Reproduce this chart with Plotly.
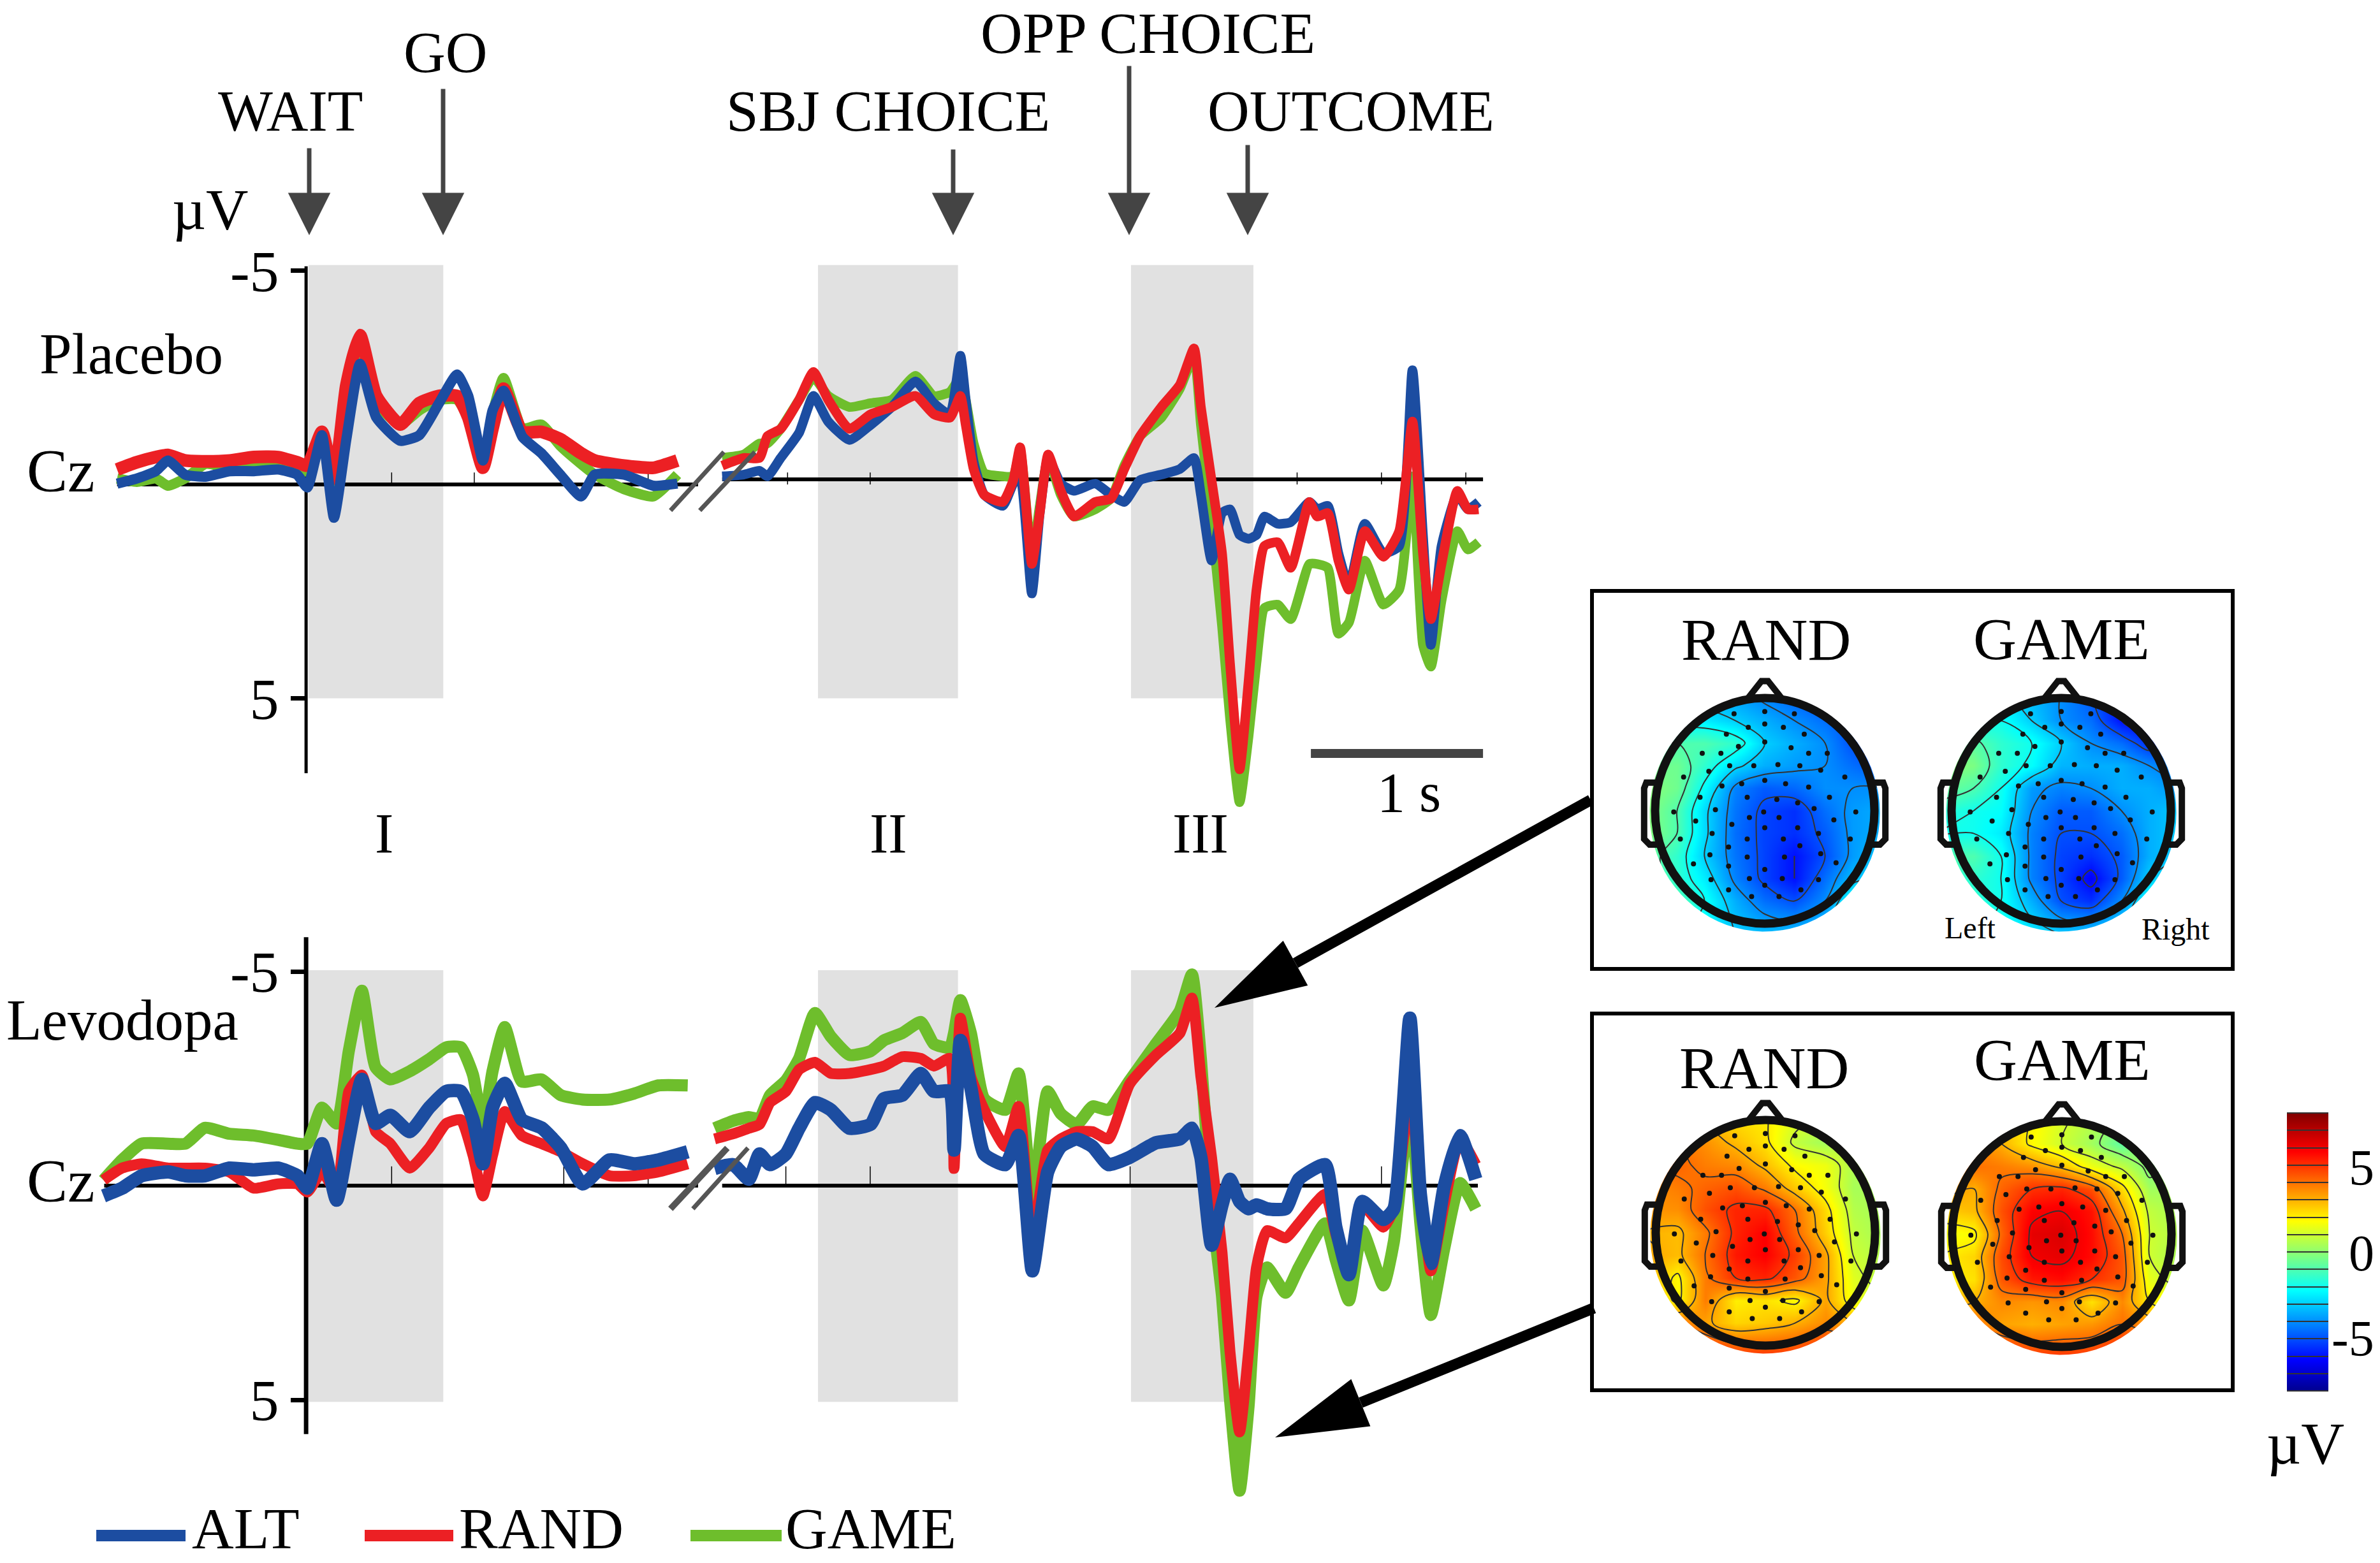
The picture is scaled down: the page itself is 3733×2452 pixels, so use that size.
import numpy as np
import plotly.graph_objects as go

W, H = 3733, 2452

# --- ERP traces: time in s, amplitude in uV (negative up)
top_t1 = [-1.105, -0.99, -0.88, -0.81, -0.71, -0.59, -0.45, -0.31, -0.17, -0.06, 0, 0.085, 0.155, 0.227, 0.306, 0.40,
          0.54, 0.65, 0.765, 0.87, 0.935, 1.02, 1.076, 1.14, 1.25, 1.36, 1.47, 1.59, 1.67, 1.84, 2.01, 2.15]
top_alt1 = [-0.02, -0.14, -0.31, -0.56, -0.23, -0.18, -0.31, -0.31, -0.35, -0.23, 0.07, -1.15, 0.78, -1.06, -2.82, -1.57,
            -1.02, -1.15, -1.90, -2.57, -2.07, -0.56, -1.73, -2.19, -1.11, -0.73, -0.23, 0.28, -0.23, -0.23, 0.03, -0.02]
top_rand1 = [-0.35, -0.52, -0.64, -0.69, -0.56, -0.54, -0.56, -0.64, -0.64, -0.52, -0.44, -1.23, -0.14, -2.32, -3.49, -2.07,
             -1.40, -1.90, -2.07, -2.07, -1.57, -0.39, -1.31, -2.24, -1.23, -1.23, -1.06, -0.73, -0.56, -0.44, -0.39, -0.56]
top_game1 = [-0.14, -0.06, -0.14, 0.03, -0.14, -0.48, -0.39, -0.48, -0.39, -0.31, -0.31, -1.15, 0.19, -1.65, -3.16, -1.90,
             -1.40, -1.73, -1.98, -1.98, -1.57, -0.56, -1.65, -2.49, -1.31, -1.40, -0.90, -0.48, -0.23, 0.11, 0.28, -0.23]

top_t2 = [2.41, 2.535, 2.627, 2.673, 2.75, 2.857, 2.94, 3.026, 3.149, 3.272, 3.395, 3.533, 3.64, 3.733, 3.794, 3.825, 3.871,
          3.932, 4.04, 4.101, 4.141, 4.209, 4.255, 4.304, 4.377, 4.454, 4.577, 4.669, 4.746, 4.838, 4.961, 5.069, 5.151,
          5.191, 5.253, 5.314, 5.36, 5.416, 5.468, 5.514, 5.56, 5.637, 5.713, 5.821, 5.867, 5.928, 5.99, 6.051, 6.143,
          6.251, 6.343, 6.42, 6.481, 6.527, 6.589, 6.681, 6.742, 6.804]
top_alt2 = [-0.19, -0.23, -0.32, -0.19, -0.62, -1.21, -2.07, -1.47, -1.04, -1.39, -1.81, -2.41, -1.90, -1.64, -3.01, -1.98, -0.53,
            0.24, 0.50, -0.02, -0.19, 2.55, 0.67, -0.62, -0.02, 0.15, -0.02, 0.24, 0.41, -0.10, -0.23, -0.36, -0.62,
            0.24, 1.78, 0.67, 0.58, 1.18, 1.27, 1.18, 0.75, 0.92, 0.88, 0.41, 0.58, 0.50, 1.61, 2.38, 0.92,
            1.61, 1.44, -2.67, 1.18, 3.75, 1.44, 0.24, 0.58, 0.41]
top_rand2 = [-0.44, -0.62, -0.62, -1.13, -1.30, -1.98, -2.63, -1.98, -1.30, -1.64, -1.81, -2.07, -1.64, -1.56, -2.07, -1.39, -0.36,
             0.24, 0.41, -0.10, -0.87, 1.86, 0.67, -0.70, 0.15, 0.75, 0.41, 0.33, -0.36, -1.13, -1.81, -2.33, -3.18,
             -1.81, -0.10, 1.61, 4.17, 6.66, 4.60, 2.46, 1.44, 1.35, 1.95, 0.41, 0.75, 0.67, 1.78, 2.46, 1.09,
             1.69, 1.09, -1.47, 1.61, 3.15, 1.86, 0.15, 0.58, 0.58]
top_game2 = [-0.62, -0.70, -0.96, -0.96, -1.30, -1.98, -2.50, -2.07, -1.81, -1.90, -1.98, -2.54, -2.07, -2.16, -2.50, -1.98, -0.96,
             -0.27, -0.19, -0.19, -0.79, 1.69, 0.50, -0.62, 0.24, 0.75, 0.58, 0.33, -0.44, -1.13, -1.56, -2.24, -3.01,
             -1.39, 0.84, 3.32, 5.46, 7.43, 5.89, 4.17, 2.89, 2.81, 3.15, 1.86, 1.86, 1.95, 3.49, 3.23, 1.78,
             2.81, 2.46, -0.19, 3.75, 4.26, 2.72, 1.09, 1.52, 1.35]

bot_t1 = [-1.184, -1.076, -0.963, -0.807, -0.708, -0.595, -0.453, -0.312, -0.17, -0.057, 0, 0.085, 0.17, 0.241, 0.317, 0.397, 0.482,
          0.595, 0.708, 0.807, 0.892, 0.963, 1.02, 1.076, 1.147, 1.246, 1.36, 1.473, 1.6, 1.756, 1.898, 2.04, 2.21]
bot_alt1 = [0.24, 0.06, -0.23, -0.32, -0.23, -0.23, -0.41, -0.37, -0.41, -0.23, 0.06, -0.98, 0.34, -1.07, -2.48, -1.45, -1.64,
            -1.26, -1.82, -2.20, -2.20, -1.54, -0.51, -1.82, -2.39, -1.54, -1.35, -0.88, -0.04, -0.60, -0.51, -0.60, -0.79]
bot_rand1 = [-0.13, -0.41, -0.51, -0.41, -0.41, -0.41, -0.32, 0.06, -0.04, -0.04, 0.15, -0.32, 0.15, -2.20, -2.58, -1.26, -0.98,
             -0.41, -0.88, -1.45, -1.54, -0.70, 0.24, -0.70, -1.73, -1.17, -0.98, -0.79, -0.51, -0.23, -0.23, -0.32, -0.51]
bot_game1 = [-0.13, -0.60, -0.98, -0.98, -0.98, -1.35, -1.21, -1.17, -1.07, -0.98, -0.98, -1.82, -1.45, -3.14, -4.55, -2.76, -2.48,
             -2.67, -2.95, -3.23, -3.23, -2.58, -1.35, -2.67, -3.70, -2.43, -2.48, -2.11, -2.01, -2.01, -2.15, -2.34, -2.34]

bot_t2 = [2.366, 2.473, 2.565, 2.627, 2.688, 2.78, 2.857, 2.949, 3.041, 3.149, 3.272, 3.349, 3.456, 3.564, 3.64, 3.733, 3.757, 3.794,
          3.855, 3.932, 4.055, 4.132, 4.212, 4.301, 4.377, 4.47, 4.562, 4.654, 4.777, 4.93, 5.069, 5.139, 5.191, 5.253, 5.314,
          5.36, 5.416, 5.468, 5.514, 5.575, 5.683, 5.76, 5.913, 5.975, 6.051, 6.128, 6.251, 6.312, 6.405, 6.466, 6.527, 6.604,
          6.696, 6.788]
bot_alt2 = [-0.40, -0.49, -0.15, -0.74, -0.49, -0.74, -1.34, -1.94, -1.77, -1.34, -1.43, -2.03, -2.11, -2.62, -2.20, -2.20, -0.83, -3.39,
            -2.28, -0.74, -0.49, -1.17, 1.99, -0.32, -0.91, -1.09, -0.91, -0.49, -0.66, -1.00, -1.09, -1.34, -0.66, 1.39, 0.45,
            -0.15, 0.37, 0.54, 0.45, 0.54, 0.54, -0.15, -0.49, 0.97, 2.08, 0.37, 0.79, 0.54, -3.91, 0.20, 1.82, 0.03,
            -1.17, -0.15]
bot_rand2 = [-1.09, -1.21, -1.34, -1.43, -1.94, -2.20, -2.71, -2.88, -2.62, -2.62, -2.71, -2.79, -3.01, -2.97, -2.79, -2.97, -0.40, -3.91,
             -2.54, -1.77, -0.91, -1.85, 1.31, -0.83, -1.09, -1.26, -1.26, -1.09, -2.37, -3.05, -3.56, -4.38, -2.54, -0.66, 1.56,
             3.87, 5.75, 3.87, 1.91, 1.05, 1.22, 0.88, 0.20, 1.14, 1.99, 0.45, 0.97, 0.54, -2.11, 0.03, 1.99, 0.45,
             -1.09, -0.49]
bot_game2 = [-1.34, -1.51, -1.60, -1.56, -2.11, -2.45, -2.97, -4.03, -3.48, -3.05, -3.14, -3.39, -3.56, -3.82, -3.31, -3.22, -3.56, -4.33,
             -3.56, -2.03, -1.77, -2.62, 0.37, -2.20, -1.68, -1.43, -1.85, -1.77, -2.45, -3.31, -4.08, -4.93, -2.97, 0.45, 2.59,
             4.98, 7.12, 5.15, 2.59, 1.91, 2.50, 1.91, 0.88, 1.74, 2.68, 1.05, 2.33, 1.31, -1.94, 0.88, 3.02, 1.48,
             -0.06, 0.54]

# baseline pieces and the small time ticks on it
top_base_t = [-1.105, 2.27, None, 2.41, 6.83]
top_base_v = [0, 0, None, -0.12, -0.12]
bot_base_t = [-1.18, 2.27, None, 2.41, 6.80]
bot_base_v = [0, 0, None, 0, 0]
top_ticks_t = [0.49, 0.97, 1.98, 2.79, 3.27, 4.29, 5.75, 6.24, 6.73]
bot_ticks_t = [0.49, 1.49, 1.98, 2.78, 3.27, 4.78, 6.24]

y_tickvals = [-5, 5]
y_ticktext = ['-5', '5']

# shaded windows in s
windows = [(0.007, 0.79), (2.967, 3.78), (4.785, 5.496)]

# --- scalp maps, uV, rows from the nose down, columns left to right
head_x = [-1.1, -0.8, -0.55, -0.27, 0, 0.27, 0.55, 0.8, 1.1]
head_y = [1.1, 0.8, 0.6, 0.4, 0.2, 0, -0.2, -0.4, -0.6, -0.8, -1.1]
map_top_rand = [[-4, -4, -4, -4, -4.5, -5, -5.5, -6, -6],
                [-3, -2.5, -2.5, -3, -3.5, -4, -4.5, -5, -6],
                [-1.5, -1, -1, -1.5, -3, -3.5, -4, -5, -5.5],
                [-0.5, -0.5, -1.5, -2.8, -3.5, -3.8, -4, -4.5, -5],
                [0, -0.5, -2.2, -4.2, -4.8, -4.6, -4, -4, -4],
                [0, -1, -2.8, -4.4, -5.2, -5.5, -4.5, -3.8, -3.5],
                [0, -1, -2.8, -4.5, -5.2, -5.5, -4.8, -3.8, -3.5],
                [-0.5, -1.5, -3, -4.4, -5.2, -6, -5, -3.8, -3],
                [-0.5, -1.5, -2.5, -4.2, -5.2, -6, -4.5, -3.3, -2.5],
                [-1, -1, -2, -3.5, -4.5, -5, -4, -2, -1.5],
                [-2, -2, -2.5, -3, -3.2, -3.2, -3, -2.5, -2]]
map_top_game = [[-3, -3, -3, -3.5, -4, -5, -6, -6, -6],
                [-2, -2, -2, -3, -4, -4.5, -6, -6.5, -6],
                [-0.5, -0.8, -1.5, -2, -3, -4, -4.5, -5.5, -5],
                [0, -0.3, -1.5, -2.2, -3.4, -3.5, -3.5, -4, -4.5],
                [-0.5, -1, -2, -3.8, -4.2, -4, -3.5, -3.5, -4],
                [-1.5, -2, -2.2, -4, -4.8, -4.8, -4, -3.5, -3],
                [-2, -2, -2.5, -4.2, -5, -5, -4.5, -3.5, -3],
                [-1, -1, -2, -4.2, -5.2, -5.5, -4.8, -3.5, -3],
                [-1.5, -1.5, -2, -4.2, -5.2, -6.3, -4.8, -3, -2.5],
                [-1.5, -1.5, -2, -3.5, -5, -5.5, -4, -2, -1.5],
                [-2, -2, -2, -2.5, -3, -3, -2.5, -2, -2]]
map_bot_rand = [[2.5, 2.5, 2.5, 2, 2, 1.5, 1, 1, 1],
                [3.5, 4, 3.5, 2.8, 2.2, 0.8, 0.3, 0.8, 1],
                [4, 4.2, 3.8, 3.6, 2.8, 1.8, 1.5, 0.5, 0.5],
                [3.5, 3.8, 4.2, 4.5, 3.8, 2.6, 1.6, 0.4, 0.3],
                [3.4, 3.5, 4.5, 5.2, 5.2, 4, 2.3, 0.6, 0.3],
                [3, 2.8, 3.8, 5.2, 5.8, 4.2, 2.5, 0.8, 0.3],
                [3.2, 2.8, 4, 5.4, 5.8, 4.8, 3.2, 1, 0.5],
                [3, 1.8, 3.8, 5, 5.2, 4.4, 3.2, 1.3, 0.5],
                [3, 1.8, 3.8, 2, 2.2, 1.8, 3.2, 1.5, 1],
                [4, 4, 3.2, 2.4, 2.6, 3, 3.6, 3, 2],
                [6, 6, 5.6, 5, 5, 5, 5.5, 5, 4]]
map_bot_game = [[3.5, 3, 2.5, 2, 1.2, 0.8, 0.2, 0.5, 1],
                [4, 3.8, 3, 1.8, 1, 0.3, -0.8, 0.2, 1],
                [4, 4, 3.8, 3.5, 2.8, 1.5, 0.8, -0.3, 0.5],
                [3.5, 3, 4.2, 5, 5.2, 4.5, 2.3, 0.3, 0.3],
                [2.5, 2.8, 4.5, 5.8, 6, 5.5, 3.2, 0.8, 0.3],
                [1.5, 1.8, 4.2, 6.2, 6.4, 5.6, 4, 1, 0.5],
                [2, 2.4, 4.6, 6, 6.2, 5.6, 4.4, 1, 0.3],
                [2, 2.2, 4.4, 5.4, 5.6, 5, 4.4, 1.4, 0.5],
                [2.8, 3, 3.6, 3.4, 3.6, 2.2, 3.6, 2, 1.5],
                [4, 4, 3.2, 3, 3.2, 3.4, 4, 3.5, 2.5],
                [6, 6, 5.6, 5, 5, 5, 5.5, 5, 4]]

# electrode montage on the unit head
electrode_x = [0, -0.28, 0.27, -0.15, 0.17, -0.35, 0.36, 0, -0.24, 0, 0.24, -0.57, -0.40, 0.40, 0.57, -0.32, -0.10, 0.12, 0.32, 0.51,
               -0.74, -0.51, 0, 0.19, 0.40, 0.73, -0.21, -0.39, -0.59, -0.16, 0.11, 0.30, 0.59, -0.45, -0.01, 0.45, 0.83, -0.83,
               -0.63, -0.14, 0.13, -0.30, 0, 0.30, 0.63, -0.48, -0.16, 0.49, -0.77, 0.17, 0.78, -0.33, 0.32, -0.50, -0.16, 0.18,
               0.51, -0.65, -0.33, 0, 0.65, -0.49, -0.14, 0.16, 0.49, -0.33, 0, 0.33, -0.12, 0.13]
electrode_y = [0.88, 0.86, 0.86, 0.74, 0.74, 0.68, 0.68, 0.77, 0.57, 0.61, 0.56, 0.51, 0.51, 0.51, 0.51, 0.40, 0.40, 0.41, 0.40, 0.36,
               0.30, 0.35, 0.27, 0.24, 0.21, 0.30, 0.24, 0.22, 0.12, 0.12, 0.10, 0.07, 0.12, 0.01, -0.01, 0.02, -0.01, -0.01,
               -0.09, -0.06, -0.06, -0.12, -0.15, -0.15, -0.08, -0.20, -0.25, -0.20, -0.25, -0.25, -0.25, -0.32, -0.31, -0.39, -0.41, -0.41,
               -0.38, -0.47, -0.49, -0.52, -0.46, -0.61, -0.60, -0.60, -0.61, -0.70, -0.66, -0.70, -0.76, -0.76]

colorbar_ticks = [-5, 0, 5]
colorbar_labels = ['-5', '0', '5']

BLUE = '#1c4da1'
RED = '#ec2024'
GREEN = '#6ebe2c'
GREY = '#444444'
FONT = 'Liberation Serif'
# matlab style jet, plotly's own is darker at the blue end
JET = [[0, '#00008f'], [0.11, '#0000ff'], [0.36, '#00ffff'], [0.61, '#ffff00'], [0.86, '#ff0000'], [1, '#800000']]


def px(x):
    return x / W


def py(y):
    return 1 - y / H


def label(text, x, y, size, anchor='center'):
    fig.add_annotation(text=text, x=px(x), y=py(y), xref='paper', yref='paper', showarrow=False,
                       xanchor=anchor, yanchor='middle', font=dict(family=FONT, size=size, color='black'))


def pointer(x, y, x0, y0):
    fig.add_annotation(text='', x=px(x), y=py(y), xref='paper', yref='paper', ax=x0 - x, ay=y0 - y,
                       showarrow=True, arrowhead=2, arrowwidth=7, arrowsize=1.9, arrowcolor=GREY)


def big_arrow(x, y, x0, y0, length=145, spread=40):
    # shaft plus a filled head, the annotation arrowheads are too stubby for these
    d = np.array([x0 - x, y0 - y], dtype=float)
    d /= np.hypot(*d)
    n = np.array([-d[1], d[0]])
    base = np.array([x, y]) + d * length
    a, b = base + n * spread, base - n * spread
    fig.add_shape(type='line', xref='paper', yref='paper', x0=px(base[0]), y0=py(base[1]), x1=px(x0), y1=py(y0),
                  line=dict(color='black', width=17))
    path = f'M{px(x)},{py(y)}L{px(a[0])},{py(a[1])}L{px(b[0])},{py(b[1])}Z'
    fig.add_shape(type='path', path=path, xref='paper', yref='paper', fillcolor='black', line=dict(width=0))


def erp(t, v, color, width, yaxis, shape='spline'):
    fig.add_trace(go.Scatter(x=t, y=v, mode='lines', yaxis=yaxis, hoverinfo='skip',
                             line=dict(color=color, width=width, shape=shape, smoothing=0.5, simplify=False)))


def line(x0, y0, x1, y1, color='black', width=5, yref='y', layer='below'):
    fig.add_shape(type='line', xref='x', yref=yref, x0=x0, y0=y0, x1=x1, y1=y1, layer=layer,
                  line=dict(color=color, width=width))


def head(z, cx, cy, n, colorbar=None):
    # every scalp map gets its own little pair of axes, in head radii
    xa, ya = f'x{n}', f'y{n}'
    fig.update_layout({
        f'xaxis{n}': dict(domain=[px(cx - 1.3 * 172), px(cx + 1.3 * 172)], range=[-1.3, 1.3], visible=False, anchor=ya),
        f'yaxis{n}': dict(domain=[py(cy + 1.25 * 177), py(cy - 1.25 * 177)], range=[-1.25, 1.25], visible=False, anchor=xa),
    })
    fig.add_trace(go.Contour(x=head_x, y=head_y[::-1], z=z[::-1], xaxis=xa, yaxis=ya, colorscale=JET, zmin=-8, zmax=8,
                             hoverinfo='skip', autocontour=False, contours=dict(start=-8, end=8, size=1, coloring='heatmap'),
                             line=dict(color='#333333', width=2, smoothing=1),
                             showscale=colorbar is not None, colorbar=colorbar))
    fig.add_trace(go.Scatter(x=electrode_x, y=electrode_y, xaxis=xa, yaxis=ya, mode='markers', hoverinfo='skip',
                             marker=dict(color='#111111', size=8)))
    # white mask around the coloured oval
    a = np.linspace(0, 2 * np.pi, 80)
    oval = 'M' + 'L'.join(f'{1.05 * np.cos(i):.3f},{-0.02 + 1.05 * np.sin(i):.3f}' for i in a) + 'Z'
    mask = 'M-1.3,-1.25L1.3,-1.25L1.3,1.25L-1.3,1.25Z' + oval
    fig.add_shape(type='path', path=mask, xref=xa, yref=ya, fillcolor='white', line=dict(width=0), layer='above')
    outline = dict(color='#111111', width=13)
    fig.add_shape(type='circle', x0=-1, x1=1, y0=-1, y1=1, xref=xa, yref=ya, line=outline, layer='above')
    thin = dict(color='#111111', width=10)
    fig.add_shape(type='path', path='M-0.16,0.99L-0.03,1.15L0.03,1.15L0.16,0.99', xref=xa, yref=ya, line=thin, layer='above')
    fig.add_shape(type='path', path='M-1,0.25L-1.08,0.25L-1.1,0.2L-1.1,-0.25L-1.05,-0.3L-0.97,-0.3',
                  xref=xa, yref=ya, line=thin, layer='above')
    fig.add_shape(type='path', path='M1,0.25L1.08,0.25L1.1,0.2L1.1,-0.25L1.05,-0.3L0.97,-0.3',
                  xref=xa, yref=ya, line=thin, layer='above')


fig = go.Figure()

# baselines first so the curves sit on them
for t, v, ticks, ya, tlen in [(top_base_t, top_base_v, top_ticks_t, 'y', -0.28), (bot_base_t, bot_base_v, bot_ticks_t, 'y2', -0.45)]:
    erp(t, v, 'black', 6, ya, 'linear')
    tx, ty = [], []
    for k in ticks:
        tx += [k, k, None]
        ty += [0, tlen, None]
    erp(tx, ty, 'black', 1.5, ya, 'linear')

# placebo: blue on top before the break, red on top after it
erp(top_t1, top_game1, GREEN, 16, 'y')
erp(top_t1, top_rand1, RED, 20, 'y')
erp(top_t1, top_alt1, BLUE, 16, 'y')
erp(top_t2, top_game2, GREEN, 15, 'y')
erp(top_t2, top_alt2, BLUE, 15, 'y')
erp(top_t2, top_rand2, RED, 15, 'y')

# levodopa
for t, g, r, a in [(bot_t1, bot_game1, bot_rand1, bot_alt1), (bot_t2, bot_game2, bot_rand2, bot_alt2)]:
    erp(t, g, GREEN, 19, 'y2')
    erp(t, r, RED, 17, 'y2')
    erp(t, a, BLUE, 21, 'y2')

t_left = -482 / 270
t_right = (W - 482) / 270
axis_pos = 482 / W
tick_style = dict(tickmode='array', tickvals=y_tickvals, ticktext=y_ticktext, ticks='outside', ticklen=26, tickwidth=7,
                  tickcolor='black', showgrid=False, zeroline=False, showline=False, anchor='free', position=axis_pos,
                  tickfont=dict(family=FONT, size=92, color='black'))
fig.update_layout(
    width=W, height=H, margin=dict(l=0, r=0, t=0, b=0), autosize=False,
    paper_bgcolor='white', plot_bgcolor='rgba(0,0,0,0)', showlegend=False, hovermode=False,
    xaxis=dict(domain=[0, 1], range=[t_left, t_right], visible=False, anchor='y'),
    yaxis=dict(domain=[1 - 1290 / H, 1], range=[(1290 - 760) / 67.1, (0 - 760) / 67.1], **tick_style),
    yaxis2=dict(domain=[0, 1 - 1290 / H], range=[(H - 1860) / 67.2, (1290 - 1860) / 67.2], **tick_style),
)

# shaded windows, spines, break marks
for t0, t1 in windows:
    fig.add_shape(type='rect', xref='x', yref='y', x0=t0, x1=t1, y0=-5.13, y1=5, fillcolor='#e1e1e1', line=dict(width=0), layer='below')
    fig.add_shape(type='rect', xref='x', yref='y2', x0=t0, x1=t1, y0=-5.03, y1=5.05, fillcolor='#e1e1e1', line=dict(width=0), layer='below')
line(-0.007, -5.1, -0.007, 6.75, width=5)
line(-0.007, -5.8, -0.007, 5.8, width=7, yref='y2')
line(2.11, 0.61, 2.42, -0.76, color='#555555', width=7, layer='above')
line(2.28, 0.61, 2.60, -0.76, color='#555555', width=7, layer='above')
line(2.11, 0.54, 2.44, -0.88, color='#555555', width=10, yref='y2', layer='above')
line(2.24, 0.54, 2.56, -0.88, color='#555555', width=7, yref='y2', layer='above')

# 1 s scale bar
line(5.83, 6.29, 6.83, 6.29, color=GREY, width=14, layer='above')
label('1 s', 2210, 1243, 88)

# event arrows and labels
for name, tx, ty, ax, y0 in [('WAIT', 455, 174, 485, 231), ('GO', 698, 83, 695, 138), ('SBJ CHOICE', 1393, 174, 1495, 233),
                             ('OPP CHOICE', 1800, 52, 1771, 102), ('OUTCOME', 2119, 174, 1957, 226)]:
    label(name, tx, ty, 91)
    pointer(ax, 369, ax, y0)

label('µV', 329, 329, 92)
label('Placebo', 60, 555, 91, 'left')
label('Levodopa', 8, 1600, 91, 'left')
label('Cz', 95, 738, 96)
label('Cz', 95, 1852, 96)
label('I', 602, 1307, 88)
label('II', 1393, 1307, 88)
label('III', 1883, 1307, 88)

# legend, placed by hand under the bottom panel
for name, x0, x1, tx, color in [('ALT', 151, 291, 299, BLUE), ('RAND', 572, 711, 718, RED), ('GAME', 1083, 1226, 1230, GREEN)]:
    fig.add_shape(type='line', xref='paper', yref='paper', x0=px(x0), x1=px(x1), y0=py(2409), y1=py(2409),
                  line=dict(color=color, width=18))
    label(name, tx, 2398, 91, 'left')

# inset boxes and topographies
for y0, y1 in [(927, 1520), (1590, 2181)]:
    fig.add_shape(type='rect', xref='paper', yref='paper', x0=px(2497), x1=px(3502), y0=py(y1), y1=py(y0),
                  line=dict(color='black', width=6))

# colorbar numbers go on by hand, the native ones sit too far out and get cut at the page edge
bar = dict(x=3587 / W, xanchor='left', xpad=0, thicknessmode='pixels', thickness=65, lenmode='pixels', len=436,
           y=py(1964), yanchor='middle', ypad=0, outlinewidth=0, tickmode='array', tickvals=colorbar_ticks,
           ticks='', showticklabels=False)
head(map_top_rand, 2768, 1272, 3)
head(map_top_game, 3233, 1272, 4)
head(map_bot_rand, 2769, 1934, 5, colorbar=bar)
head(map_bot_game, 3234, 1936, 6)

for v, text in zip(colorbar_ticks, colorbar_labels):
    label(text, 3726, 1966 - 26.8 * v, 80, 'right')

label('RAND', 2770, 1003, 94)
label('GAME', 3233, 1002, 94)
label('RAND', 2767, 1675, 94)
label('GAME', 3234, 1662, 94)
label('Left', 3090, 1455, 48)
label('Right', 3412, 1457, 48)
label('µV', 3616, 2264, 94)

big_arrow(1905, 1581, 2495, 1255)
big_arrow(2000, 2255, 2500, 2052)

# browsers leave an 8 px body margin otherwise
fig.write_html("out.html", config=dict(displayModeBar=False), post_script="document.body.style.margin='0';")
